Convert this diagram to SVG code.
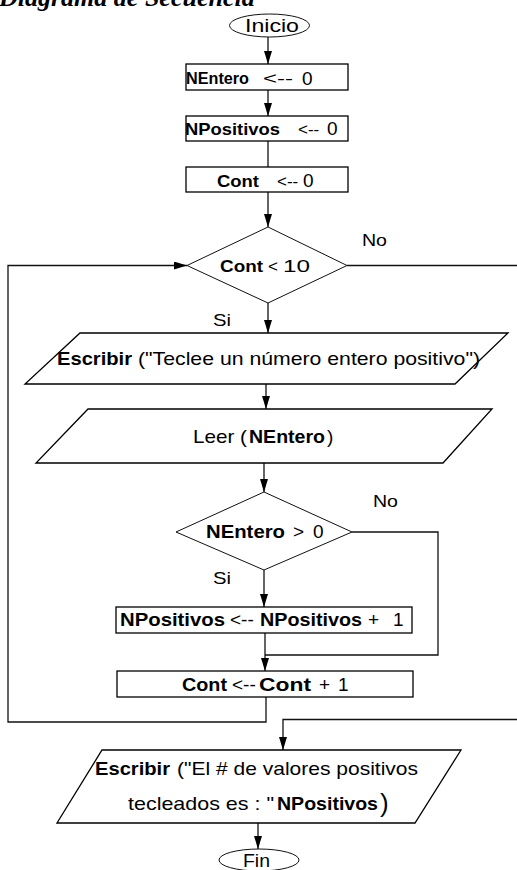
<svg xmlns="http://www.w3.org/2000/svg" width="517" height="870" viewBox="0 0 517 870">
  <defs>
    <marker id="arrow" viewBox="0 0 13 8" refX="13" refY="4" markerWidth="13" markerHeight="8" markerUnits="userSpaceOnUse" orient="auto">
      <path d="M0,0 L13,4 L0,8 z" fill="#000"/>
    </marker>
    <style>
      .shape { fill: #fff; stroke: #000; stroke-width: 1.3; }
      .thin { fill: #fff; stroke: #111; stroke-width: 1; }
      .wire { fill: none; stroke: #111; stroke-width: 1.3; }
      .arr { marker-end: url(#arrow); }
      text { font-family: "Liberation Sans", Arial, sans-serif; fill: #000; }
      .b { font-weight: bold; font-size: 17px; }
      .r { font-size: 17px; }
      .m { font-size: 19px; }
      .mb { font-size: 19px; font-weight: bold; }
      .lbl { font-size: 17px; }
      .title { font-family: "Liberation Serif", "Times New Roman", serif; font-weight: bold; font-style: italic; font-size: 26px; }
    </style>
  </defs>

  <rect x="0" y="0" width="517" height="870" fill="#fff"/>

  <text class="title" x="-1" y="6">Diagrama de Secuencia</text>

  <!-- connectors -->
  <g id="connectors">
    <path class="wire arr" d="M268,37 L268,64"/>
    <path class="wire arr" d="M268,90 L268,116"/>
    <path class="wire" d="M268,141 L268,167"/>
    <path class="wire arr" d="M268,192 L268,227"/>
    <path class="wire arr" d="M268,303 L268,333"/>
    <path class="wire arr" d="M266,384 L266,409"/>
    <path class="wire arr" d="M264,463 L264,492"/>
    <path class="wire arr" d="M264,570 L264,607"/>
    <path class="wire arr" d="M265,633 L265,671"/>
    <path class="wire" d="M352,532 H438 V655 H265"/>
    <path class="wire arr" d="M266,697 V722 H8 V265.5 H187"/>
    <path class="wire arr" d="M347,265.5 H522 V719.5 H283 V750"/>
    <path class="wire arr" d="M258,823 L258,849"/>
    <text class="lbl" x="362" y="246" textLength="25" lengthAdjust="spacingAndGlyphs">No</text>
    <text class="lbl" x="213" y="326" textLength="18" lengthAdjust="spacingAndGlyphs">Si</text>
    <text class="lbl" x="373" y="507" textLength="25" lengthAdjust="spacingAndGlyphs">No</text>
    <text class="lbl" x="213" y="584" textLength="18" lengthAdjust="spacingAndGlyphs">Si</text>
  </g>

  <g id="inicio">
    <ellipse class="thin" cx="269.5" cy="25.5" rx="40" ry="11.5"/>
    <text x="245" y="31.5" font-size="18" textLength="54" lengthAdjust="spacingAndGlyphs">Inicio</text>
  </g>

  <g id="set-nentero">
    <rect class="shape" x="186" y="64" width="162" height="26"/>
    <text class="b" x="186" y="83.5" textLength="63" lengthAdjust="spacingAndGlyphs">NEntero</text>
    <text class="r" x="263" y="83.5" textLength="30" lengthAdjust="spacingAndGlyphs">&lt;--</text>
    <text class="m" x="302" y="84.5">0</text>
  </g>

  <g id="set-npositivos">
    <rect class="shape" x="186" y="116" width="162" height="25"/>
    <text class="b" x="185" y="135" textLength="95" lengthAdjust="spacingAndGlyphs">NPositivos</text>
    <text class="r" x="298" y="135">&lt;--</text>
    <text class="m" x="327" y="135">0</text>
  </g>

  <g id="set-cont">
    <rect class="shape" x="186" y="167" width="162" height="25"/>
    <text class="b" x="217" y="187" textLength="42" lengthAdjust="spacingAndGlyphs">Cont</text>
    <text class="r" x="277" y="187">&lt;--</text>
    <text class="m" x="303" y="187">0</text>
  </g>

  <g id="cond-cont">
    <polygon class="thin" points="268,227 347,265.5 268,303 187,265.5"/>
    <text class="b" x="220" y="271.5" textLength="43" lengthAdjust="spacingAndGlyphs">Cont</text>
    <text class="r" x="268" y="271.5">&lt;</text>
    <text class="r" x="283" y="271.5" textLength="27" lengthAdjust="spacingAndGlyphs">10</text>
  </g>

  <g id="write-prompt">
    <polygon class="shape" points="80,333 508,333 455,384 25,384"/>
    <text class="mb" x="57" y="365" textLength="75" lengthAdjust="spacingAndGlyphs">Escribir</text>
    <text class="m" x="138" y="365" textLength="342" lengthAdjust="spacingAndGlyphs">("Teclee un número entero positivo")</text>
  </g>

  <g id="read-nentero">
    <polygon class="shape" points="88,409 492,409 443,463 36,463"/>
    <text class="m" x="193" y="443" textLength="54" lengthAdjust="spacingAndGlyphs">Leer (</text>
    <text class="mb" x="249" y="443" textLength="76" lengthAdjust="spacingAndGlyphs">NEntero</text>
    <text class="m" x="327" y="443">)</text>
  </g>

  <g id="cond-nentero">
    <polygon class="thin" points="264,492 352,532 264,570 176,532"/>
    <text class="mb" x="206" y="537.5" textLength="79" lengthAdjust="spacingAndGlyphs">NEntero</text>
    <text class="m" x="293" y="537.5">&gt;</text>
    <text class="m" x="313" y="537.5">0</text>
  </g>

  <g id="inc-npositivos">
    <rect class="shape" x="116" y="607" width="296" height="26"/>
    <text class="mb" x="120" y="626" textLength="105" lengthAdjust="spacingAndGlyphs">NPositivos</text>
    <text class="m" x="230" y="626">&lt;--</text>
    <text class="mb" x="260" y="626" textLength="102" lengthAdjust="spacingAndGlyphs">NPositivos</text>
    <text class="m" x="368" y="626">+</text>
    <text class="m" x="393" y="626">1</text>
  </g>

  <g id="inc-cont">
    <rect class="shape" x="117" y="671" width="296" height="26"/>
    <text class="mb" x="182" y="690.5" textLength="45" lengthAdjust="spacingAndGlyphs">Cont</text>
    <text class="m" x="232" y="690.5">&lt;--</text>
    <text class="mb" x="259" y="690.5" textLength="52" lengthAdjust="spacingAndGlyphs">Cont</text>
    <text class="m" x="319" y="690.5">+</text>
    <text class="m" x="338" y="690.5">1</text>
  </g>

  <g id="write-result">
    <polygon class="shape" points="102,750 461,750 415,823 57,823"/>
    <text class="mb" x="95" y="775" textLength="75" lengthAdjust="spacingAndGlyphs">Escribir</text>
    <text class="m" x="177" y="775" textLength="241" lengthAdjust="spacingAndGlyphs">("El # de valores positivos</text>
    <text class="m" x="128" y="810" textLength="146" lengthAdjust="spacingAndGlyphs">tecleados es : "</text>
    <text class="mb" x="277" y="810" textLength="101" lengthAdjust="spacingAndGlyphs">NPositivos</text>
    <text x="380" y="812" font-size="26">)</text>
  </g>

  <g id="fin">
    <ellipse class="thin" cx="259" cy="860" rx="40" ry="11"/>
    <text x="243" y="867" font-size="18" textLength="27" lengthAdjust="spacingAndGlyphs">Fin</text>
  </g>
</svg>
